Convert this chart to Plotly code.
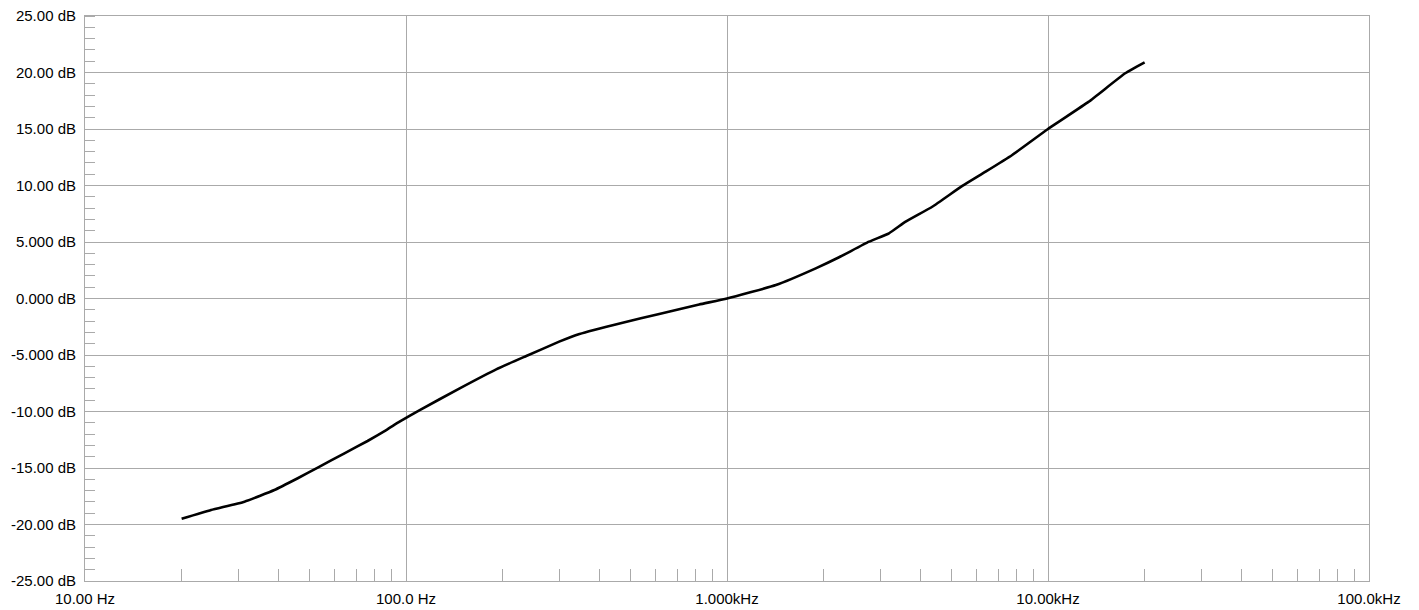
import plotly.graph_objects as go

freq_hz = [20, 24.7, 31.4, 38.9, 46, 53.1, 64.3, 75.9, 86.8, 95.5, 110, 147, 191, 237,
           300, 347, 473, 615, 819, 1000, 1420, 1890, 2234, 2770, 3196, 3602, 4360,
           5408, 6392, 7736, 10000, 13400, 17400, 20000]
gain_db = [-19.5, -18.72, -17.98, -16.95, -15.91, -14.97, -13.7, -12.61, -11.64, -10.9,
           -9.9, -7.95, -6.27, -5.09, -3.82, -3.14, -2.14, -1.37, -0.53, 0.0, 1.19, 2.67,
           3.65, 5.03, 5.77, 6.8, 8.12, 9.96, 11.22, 12.7, 15.0, 17.42, 19.93, 20.9]

x_tickvals = [10, 100, 1000, 10000, 100000]
x_ticktext = ["10.00 Hz", "100.0 Hz", "1.000kHz", "10.00kHz", "100.0kHz"]
x_minor = [m * d for d in [10, 100, 1000, 10000] for m in range(2, 10)]
y_tickvals = [25, 20, 15, 10, 5, 0, -5, -10, -15, -20, -25]
y_ticktext = ["25.00 dB", "20.00 dB", "15.00 dB", "10.00 dB", "5.000 dB", "0.000 dB",
              "-5.000 dB", "-10.00 dB", "-15.00 dB", "-20.00 dB", "-25.00 dB"]

grid = "#aaaaaa"
fig = go.Figure()
fig.add_trace(go.Scatter(x=freq_hz, y=gain_db, mode="lines",
                         line=dict(color="black", width=2.6, shape="spline", smoothing=0.4),
                         showlegend=False, hoverinfo="skip"))

fig.update_layout(
    width=1419, height=610,
    margin=dict(l=85, r=50, t=16, b=29),
    paper_bgcolor="white", plot_bgcolor="white",
    font=dict(family="Liberation Sans, Arial, sans-serif", size=15, color="black"),
    xaxis=dict(type="log", range=[1, 5], tickmode="array", tickvals=x_tickvals,
               ticktext=x_ticktext, showgrid=True, gridcolor=grid, gridwidth=1,
               showline=True, linecolor=grid, linewidth=1, mirror=True,
               ticks="", zeroline=False, ticklabelstandoff=4, automargin=False,
               minor=dict(tickmode="array", tickvals=x_minor, ticks="inside",
                          ticklen=12, tickcolor=grid, tickwidth=1, showgrid=False)),
    yaxis=dict(range=[-25, 25], tickmode="array", tickvals=y_tickvals, ticktext=y_ticktext,
               showgrid=True, gridcolor=grid, gridwidth=1,
               showline=True, linecolor=grid, linewidth=1, mirror=True,
               ticks="", zeroline=False, ticklabelstandoff=5, automargin=False,
               minor=dict(dtick=1, tick0=0, ticks="inside", ticklen=10,
                          tickcolor=grid, tickwidth=1, showgrid=False)),
)

fig.write_html("out.html")
